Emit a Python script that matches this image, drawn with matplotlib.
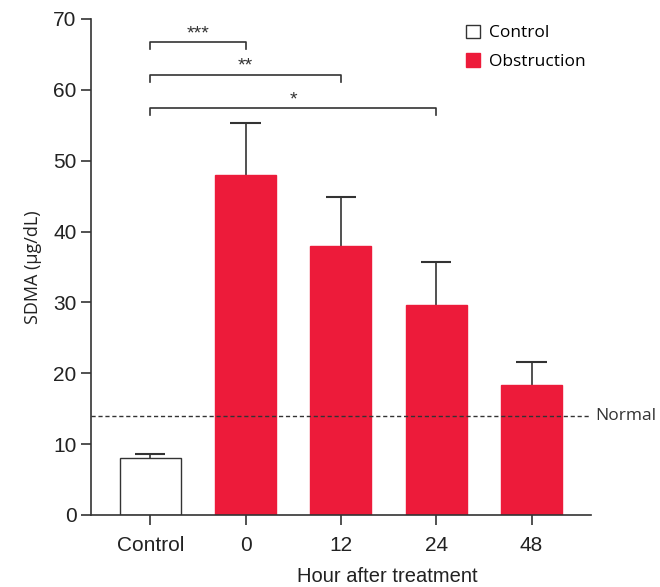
import numpy as np
import matplotlib
matplotlib.use("Agg")
import matplotlib.pyplot as plt
from matplotlib.patches import Patch

plt.rcParams["font.family"] = ["Liberation Sans", "DejaVu Sans"]

# data
groups = ["Control", "0", "12", "24", "48"]
means = [8.1, 48.0, 37.9, 29.6, 18.3]
errors = [0.5, 7.3, 7.0, 6.1, 3.3]
normal_level = 14
# significance brackets: (start index, end index, height, label)
brackets = [(0, 1, 66.7, "***"), (0, 2, 62.1, "**"), (0, 3, 57.4, "*")]

red = "#ED1B3A"
dark = "#333333"

fig = plt.figure(figsize=(6.6, 5.87), dpi=100)
ax = fig.add_axes([0.138, 0.1227, 0.757, 0.845])

x = np.arange(len(groups))
colors = ["white"] + [red] * (len(groups) - 1)
edges = [dark] + [red] * (len(groups) - 1)
ax.bar(x, means, width=0.64, color=colors, edgecolor=edges, linewidth=1.0, zorder=2)

# upper-only error bars
tops = np.array(means) + np.array(errors)
ax.vlines(x, means, tops, color=dark, lw=1.2, zorder=1)
ax.hlines(tops, x - 0.16, x + 0.16, color=dark, lw=1.5, zorder=1)

ax.axhline(normal_level, color=dark, linestyle=(0, (3, 2)), linewidth=1.0, zorder=3)
ax.text(1.01, normal_level, "Normal", transform=ax.get_yaxis_transform(),
        ha="left", va="center", fontsize=12.5, color=dark,
        family=["Open Sans", "DejaVu Sans"])

for i0, i1, h, lab in brackets:
    ax.plot([i0, i0, i1, i1], [h - 1.0, h, h, h - 1.0], color=dark, lw=1.2,
            clip_on=False)
    ax.text((i0 + i1) / 2, h + 1.2, lab, ha="center", va="center",
            fontsize=14, color=dark)

ax.set_xlim(-0.62, 4.62)
ax.set_ylim(0, 70)
ax.set_yticks(range(0, 71, 10))
ax.set_xticks(x)
ax.set_xticklabels(groups)
ax.tick_params(axis="both", direction="out", length=7, width=1.2, colors=dark,
               labelsize=15, labelcolor="#222222")
ax.tick_params(axis="x", pad=8)
for side in ["top", "right"]:
    ax.spines[side].set_visible(False)
for side in ["left", "bottom"]:
    ax.spines[side].set_linewidth(1.2)
    ax.spines[side].set_color(dark)

ax.set_ylabel("SDMA (μg/dL)", fontsize=13, color="#222222", labelpad=8,
              family=["Open Sans", "DejaVu Sans"])
ax.set_xlabel("Hour after treatment", fontsize=14.5, color="#222222", labelpad=9,
              x=0.592)

# legend
handles = [Patch(facecolor="white", edgecolor=dark, label="Control"),
           Patch(facecolor=red, edgecolor=red, label="Obstruction")]
ax.legend(handles=handles, loc="upper left", bbox_to_anchor=(0.72, 1.02),
          frameon=False, handlelength=0.8, handleheight=0.8,
          handletextpad=0.5, labelspacing=0.7,
          prop={"family": ["Open Sans", "DejaVu Sans"], "size": 12.5})

fig.savefig("out.png", dpi=100)
plt.close(fig)
